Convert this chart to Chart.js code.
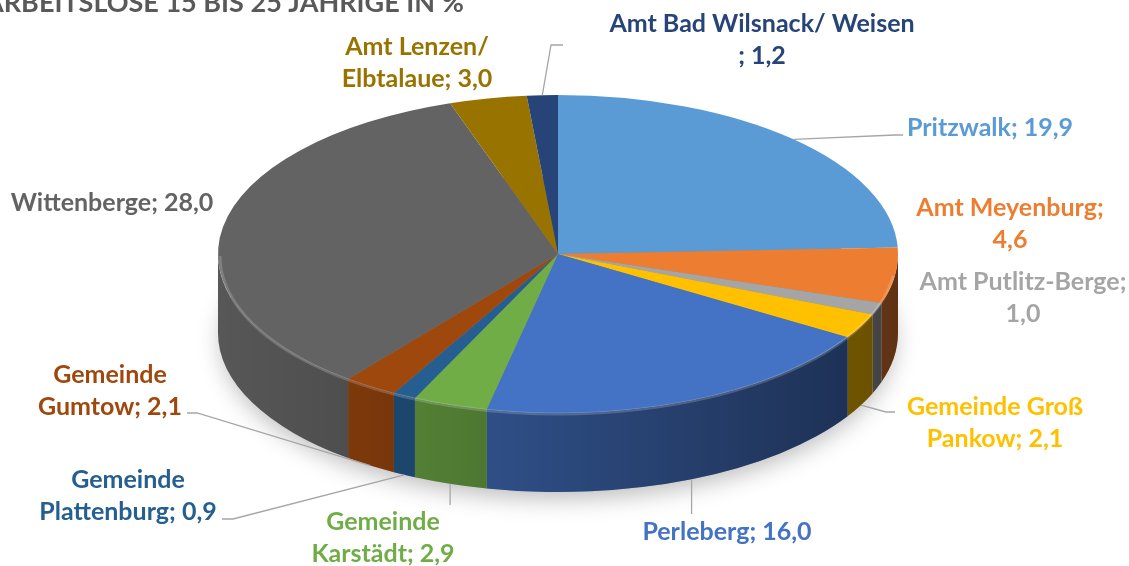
<!DOCTYPE html>
<html>
<head>
<meta charset="utf-8">
<script src="https://cdn.jsdelivr.net/npm/chart.js@4.4.1/dist/chart.umd.min.js"></script>
<style>
  html, body { margin: 0; padding: 0; background: #fff; }
  #wrap { width: 1129px; height: 566px; position: relative; }
</style>
</head>
<body>
<div id="wrap"><canvas id="chart"></canvas></div>
<script>
// Data
const titleText = 'ARBEITSLOSE 15 BIS 25 JÄHRIGE IN %';
const labels = [
  'Pritzwalk', 'Amt Meyenburg', 'Amt Putlitz-Berge', 'Gemeinde Groß Pankow',
  'Perleberg', 'Gemeinde Karstädt', 'Gemeinde Plattenburg', 'Gemeinde Gumtow',
  'Wittenberge', 'Amt Lenzen/ Elbtalaue', 'Amt Bad Wilsnack/ Weisen ',
];
const values = [19.9, 4.6, 1.0, 2.1, 16.0, 2.9, 0.9, 2.1, 28.0, 3.0, 1.2];
const colors = [
  '#5B9BD5', '#ED7D31', '#A5A5A5', '#FFC000', '#4472C4', '#70AD47',
  '#255E91', '#9E480E', '#636363', '#997300', '#264478',
];

// Layout of the 3D disc
const CX = 558, CY = 254, RX = 340, RY = 159, DEPTH = 79;
const FONT = 'bold 25px Lato';
const LINE_H = 32;

// Label placement: x/y = centre of first line, brk = words on first line,
// side = leader starts at bottom of the side wall, path = leader elbow points
const labelLayout = [
  { x: 907, y: 128, align: 'left', brk: 99, path: [[895, 135], [903, 135]] },
  { x: 1010, y: 208, brk: 2 },
  { x: 1023, y: 282, brk: 2 },
  { x: 995, y: 407, brk: 2, side: true, path: [[886, 412], [895, 412]] },
  { x: 727, y: 532, brk: 99, side: true, path: [[null, 514]] },
  { x: 383, y: 522, brk: 1, side: true, path: [[null, 505]] },
  { x: 128, y: 480, brk: 1, side: true, path: [[233, 519], [222, 519]] },
  { x: 110, y: 375, brk: 1, side: true, path: [[197, 413], [187, 413]] },
  { x: 112, y: 203, brk: 99 },
  { x: 417, y: 47, brk: 2 },
  { x: 762, y: 24, brk: 4, path: [[551, 45], [563, 45]] },
];

function fmt(v) {
  return v.toFixed(1).replace('.', ',');
}

const pie3d = {
  id: 'pie3d',
  beforeDatasetsDraw(chart) {
    const ctx = chart.ctx;
    const arcs = chart.getDatasetMeta(0).data;

    // soft shadow under the disc
    ctx.save();
    ctx.shadowColor = 'rgba(0,0,0,0.28)';
    ctx.shadowBlur = 24;
    ctx.shadowOffsetY = 8;
    ctx.fillStyle = '#888';
    ctx.beginPath();
    ctx.ellipse(CX, CY + DEPTH, RX - 4, RY - 2, 0, 0, Math.PI * 2);
    ctx.fill();
    ctx.restore();

    // side wall, only the front half is visible
    const shade = ctx.createLinearGradient(CX - RX, 0, CX + RX, 0);
    shade.addColorStop(0, 'rgba(0,0,0,0.12)');
    shade.addColorStop(1, 'rgba(0,0,0,0.60)');
    arcs.forEach((arc, i) => {
      const s = Math.max(arc.startAngle, 0);
      const e = Math.min(arc.endAngle, Math.PI);
      if (s >= e) return;
      ctx.beginPath();
      ctx.ellipse(CX, CY, RX, RY, 0, s, e);
      ctx.ellipse(CX, CY + DEPTH, RX, RY, 0, e, s, true);
      ctx.closePath();
      ctx.fillStyle = colors[i];
      ctx.fill();
      ctx.fillStyle = shade;
      ctx.fill();
    });

    // squash the flat pie into the top face
    const a = arcs[0];
    ctx.save();
    ctx.translate(CX, CY);
    ctx.scale(RX / a.outerRadius, RY / a.outerRadius);
    ctx.translate(-a.x, -a.y);
  },
  afterDatasetsDraw(chart) {
    const ctx = chart.ctx;
    ctx.restore();
    const arcs = chart.getDatasetMeta(0).data;

    // rim highlight along the front edge
    ctx.save();
    ctx.strokeStyle = 'rgba(255,255,255,0.18)';
    ctx.lineWidth = 3;
    ctx.beginPath();
    ctx.ellipse(CX, CY + 2, RX - 2, RY - 1, 0, 0.04 * Math.PI, Math.PI);
    ctx.stroke();
    ctx.restore();

    // title (cut off at the top like the source)
    ctx.save();
    ctx.font = 'bold 27px Lato';
    ctx.fillStyle = '#595959';
    ctx.textBaseline = 'alphabetic';
    ctx.fillText(titleText, -15, 12);
    ctx.restore();

    // data labels and leader lines
    ctx.save();
    ctx.font = FONT;
    ctx.textBaseline = 'middle';
    arcs.forEach((arc, i) => {
      const lay = labelLayout[i];
      if (lay.path) {
        const m = (arc.startAngle + arc.endAngle) / 2;
        const px = CX + RX * Math.cos(m);
        const py = CY + RY * Math.sin(m) + (lay.side ? DEPTH : 0);
        ctx.strokeStyle = '#A6A6A6';
        ctx.lineWidth = 1.3;
        ctx.beginPath();
        ctx.moveTo(px, py);
        lay.path.forEach(p => ctx.lineTo(p[0] === null ? px : p[0], p[1]));
        ctx.stroke();
      }
      const words = (labels[i] + '; ' + fmt(values[i])).split(' ');
      const lines = [words.slice(0, lay.brk).join(' ')];
      if (words.length > lay.brk) lines.push(words.slice(lay.brk).join(' '));
      ctx.fillStyle = colors[i];
      ctx.textAlign = lay.align || 'center';
      lines.forEach((t, k) => ctx.fillText(t, lay.x, lay.y + k * LINE_H));
    });
    ctx.restore();
  },
};

new Chart(document.getElementById('chart'), {
  type: 'pie',
  data: {
    labels: labels,
    datasets: [{
      data: values,
      backgroundColor: colors,
      borderWidth: 0,
    }],
  },
  options: {
    responsive: true,
    maintainAspectRatio: false,
    animation: false,
    events: [],
    plugins: {
      legend: { display: false },
      tooltip: { enabled: false },
      title: { display: false },
    },
  },
  plugins: [pie3d],
});
</script>
</body>
</html>
